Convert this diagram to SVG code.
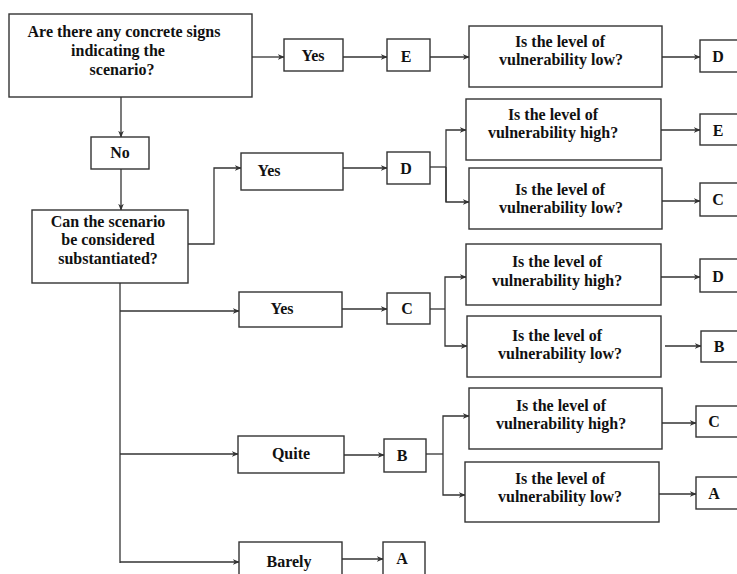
<svg xmlns="http://www.w3.org/2000/svg" width="737" height="574" viewBox="0 0 737 574">
<defs>
<marker id="ah" viewBox="0 0 10 10" refX="9" refY="5" markerWidth="7" markerHeight="7" markerUnits="userSpaceOnUse" orient="auto">
<path d="M0,1 L10,5 L0,9 L3,5 Z" fill="#333"/>
</marker>
</defs>
<style>
rect{fill:#fff;stroke:#333;stroke-width:1.4}
text{font-family:"Liberation Serif","Times New Roman",serif;font-weight:bold;font-size:16px;fill:#111;text-anchor:middle}
.c path,.c line{fill:none;stroke:#333;stroke-width:1.3}
.a{marker-end:url(#ah)}
</style>
<rect x="0" y="0" width="737" height="574" style="fill:#fff;stroke:none"/>
<g class="c" id="connectors">
<line class="a" x1="252" y1="57" x2="284" y2="57"/>
<line class="a" x1="343" y1="57" x2="387" y2="57"/>
<line class="a" x1="430" y1="57" x2="469" y2="57"/>
<line class="a" x1="662" y1="57" x2="700" y2="57"/>
<line class="a" x1="121" y1="97" x2="121" y2="137"/>
<line class="a" x1="121" y1="169" x2="121" y2="210"/>
<path class="a" d="M188,244 H214 V168 H241"/>
<line class="a" x1="343" y1="168" x2="387" y2="168"/>
<path d="M430,167 H446"/>
<path class="a" d="M446,202 V130 H466"/>
<path class="a" d="M446,167 V202 H469"/>
<line class="a" x1="661" y1="130" x2="700" y2="130"/>
<line class="a" x1="662" y1="201" x2="700" y2="201"/>
<path d="M120,283 V563"/>
<line class="a" x1="120" y1="311" x2="239" y2="311"/>
<line class="a" x1="120" y1="454" x2="238" y2="454"/>
<line class="a" x1="120" y1="562" x2="239" y2="562"/>
<line class="a" x1="342" y1="309" x2="387" y2="309"/>
<path d="M430,309 H445"/>
<path class="a" d="M445,309 V277 H466"/>
<path class="a" d="M445,309 V346 H467"/>
<line class="a" x1="661" y1="277" x2="700" y2="277"/>
<line class="a" x1="665" y1="346" x2="701" y2="346"/>
<line class="a" x1="344" y1="455" x2="384" y2="455"/>
<path d="M426,454 H443"/>
<path class="a" d="M443,454 V416 H469"/>
<path class="a" d="M443,454 V495 H465"/>
<line class="a" x1="658" y1="423" x2="696" y2="423"/>
<line class="a" x1="659" y1="494" x2="696" y2="494"/>
<line class="a" x1="342" y1="559" x2="383" y2="559"/>
</g>
<g id="q1"><rect x="9" y="14" width="243" height="83"/><text x="124" y="37">Are there any concrete signs</text><text x="118" y="56">indicating the</text><text x="122" y="75">scenario?</text></g>
<g id="yes1"><rect x="284" y="39" width="59" height="32"/><text x="313" y="61">Yes</text></g>
<g id="e1"><rect x="387" y="39" width="43" height="32"/><text x="406" y="62">E</text></g>
<g id="v1"><rect x="469" y="26" width="193" height="61"/><text x="560" y="47">Is the level of</text><text x="561" y="65">vulnerability low?</text></g>
<g id="d1"><rect x="700" y="40" width="50" height="32"/><text x="718" y="62">D</text></g>
<g id="no"><rect x="91" y="137" width="58" height="32"/><text x="120" y="158">No</text></g>
<g id="q2"><rect x="32" y="210" width="156" height="73"/><text x="108" y="227">Can the scenario</text><text x="108" y="245">be considered</text><text x="108" y="264">substantiated?</text></g>
<g id="yes2"><rect x="241" y="153" width="102" height="37"/><text x="269" y="176">Yes</text></g>
<g id="d2"><rect x="387" y="152" width="43" height="32"/><text x="406" y="174">D</text></g>
<g id="v2"><rect x="466" y="99" width="195" height="61"/><text x="553" y="120">Is the level of</text><text x="553" y="138">vulnerability high?</text></g>
<g id="v3"><rect x="469" y="168" width="193" height="61"/><text x="560" y="195">Is the level of</text><text x="561" y="213">vulnerability low?</text></g>
<g id="e2"><rect x="700" y="114" width="50" height="31"/><text x="718" y="136">E</text></g>
<g id="c2"><rect x="700" y="183" width="50" height="33"/><text x="718" y="205">C</text></g>
<g id="yes3"><rect x="239" y="292" width="103" height="35"/><text x="282" y="314">Yes</text></g>
<g id="c3"><rect x="387" y="293" width="43" height="31"/><text x="407" y="314">C</text></g>
<g id="v4"><rect x="466" y="244" width="195" height="61"/><text x="557" y="267">Is the level of</text><text x="557" y="286">vulnerability high?</text></g>
<g id="v5"><rect x="467" y="316" width="194" height="61"/><text x="557" y="341">Is the level of</text><text x="560" y="359">vulnerability low?</text></g>
<g id="d3"><rect x="700" y="259" width="50" height="33"/><text x="718" y="282">D</text></g>
<g id="b3"><rect x="701" y="331" width="50" height="31"/><text x="719" y="352">B</text></g>
<g id="quite"><rect x="238" y="436" width="106" height="37"/><text x="291" y="459">Quite</text></g>
<g id="b4"><rect x="384" y="439" width="42" height="33"/><text x="402" y="461">B</text></g>
<g id="v6"><rect x="469" y="388" width="193" height="61"/><text x="561" y="411">Is the level of</text><text x="561" y="429">vulnerability high?</text></g>
<g id="v7"><rect x="465" y="462" width="194" height="60"/><text x="560" y="484">Is the level of</text><text x="560" y="502">vulnerability low?</text></g>
<g id="c4"><rect x="696" y="406" width="50" height="31"/><text x="714" y="427">C</text></g>
<g id="a4"><rect x="696" y="477" width="50" height="32"/><text x="714" y="499">A</text></g>
<g id="barely"><rect x="239" y="542" width="103" height="40"/><text x="289" y="567">Barely</text></g>
<g id="a5"><rect x="383" y="542" width="42" height="40"/><text x="402" y="564">A</text></g>
</svg>
